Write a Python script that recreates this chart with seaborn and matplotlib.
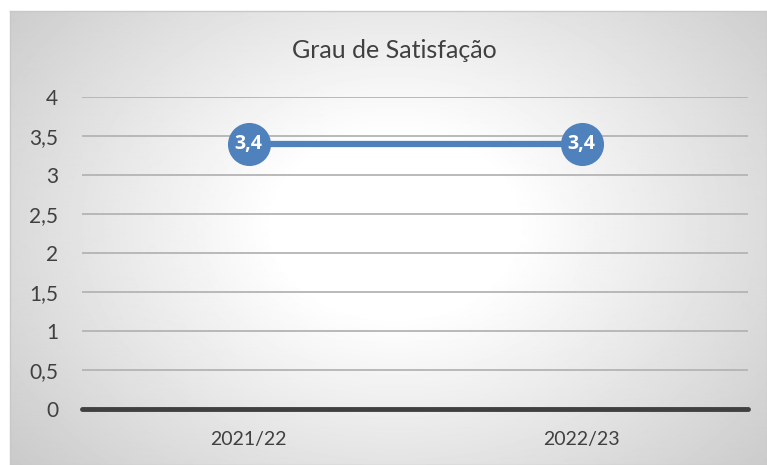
import numpy as np
import pandas as pd
import matplotlib
matplotlib.use("Agg")
import matplotlib.pyplot as plt
import seaborn as sns

# data
anos = ["2021/22", "2022/23"]
grau = [3.4, 3.4]
y_ticks = [0, 0.5, 1, 1.5, 2, 2.5, 3, 3.5, 4]
y_labels = ["0", "0,5", "1", "1,5", "2", "2,5", "3", "3,5", "4"]
titulo = "Grau de Satisfação"

df = pd.DataFrame({"ano": anos, "grau": grau})

sns.set_theme(style="white")
plt.rcParams["font.family"] = ["Lato", "DejaVu Sans"]

W, H = 767, 465
fig = plt.figure(figsize=(W / 100, H / 100), dpi=100)
fig.patch.set_facecolor("white")

# radial gradient background of the chart box
bg = fig.add_axes([10 / W, 0, 1 - 10 / W, 1 - 11 / H])
yy, xx = np.mgrid[0:454, 0:757]
cx, cy = 385, 215
r = np.sqrt(((xx - cx) / 400.0) ** 2 + ((yy - cy) / 300.0) ** 2)
shade = 1.0 - 0.22 * np.clip(r - 0.3, 0, None)
shade = np.clip(shade, 0.76, 1.0)
bg.imshow(shade, cmap="gray", vmin=0, vmax=1, aspect="auto", interpolation="bilinear")
bg.set_xticks([])
bg.set_yticks([])
for s in bg.spines.values():
    s.set_color("#c8c8c8")
    s.set_linewidth(1.0)

ax = fig.add_axes([82 / W, 56 / H, (748 - 82) / W, (409 - 97) / H])
ax.patch.set_alpha(0)

blue = "#4f81bd"
sns.lineplot(data=df, x="ano", y="grau", ax=ax, color=blue, linewidth=4.5,
             marker="o", markersize=31, markeredgewidth=0, zorder=5)

for i, v in enumerate(grau):
    ax.text(i, v, f"{v:.1f}".replace(".", ","), color="white", fontsize=14,
            fontweight="bold", family=["Open Sans", "DejaVu Sans"],
            ha="center", va="center", zorder=6)

ax.set_xlim(-0.5, 1.5)
ax.set_ylim(0, 4)
ax.set_yticks(y_ticks)
ax.set_yticklabels(y_labels)
for t in y_ticks[1:]:
    ax.axhline(t, color="#b4b4b4", linewidth=1.3, zorder=1)
ax.axhline(0, color="#404040", linewidth=3.5, zorder=2, clip_on=False)

ax.tick_params(axis="y", length=0, pad=17, labelsize=15, labelcolor="#404040")
ax.tick_params(axis="x", length=0, pad=16, labelsize=14, labelcolor="#404040")
ax.set_xlabel("")
ax.set_ylabel("")
for s in ax.spines.values():
    s.set_visible(False)

fig.text(394 / W, 1 - 50 / H, titulo, ha="center", va="center",
         fontsize=18, color="#404040")

fig.savefig("out.png", dpi=100)
